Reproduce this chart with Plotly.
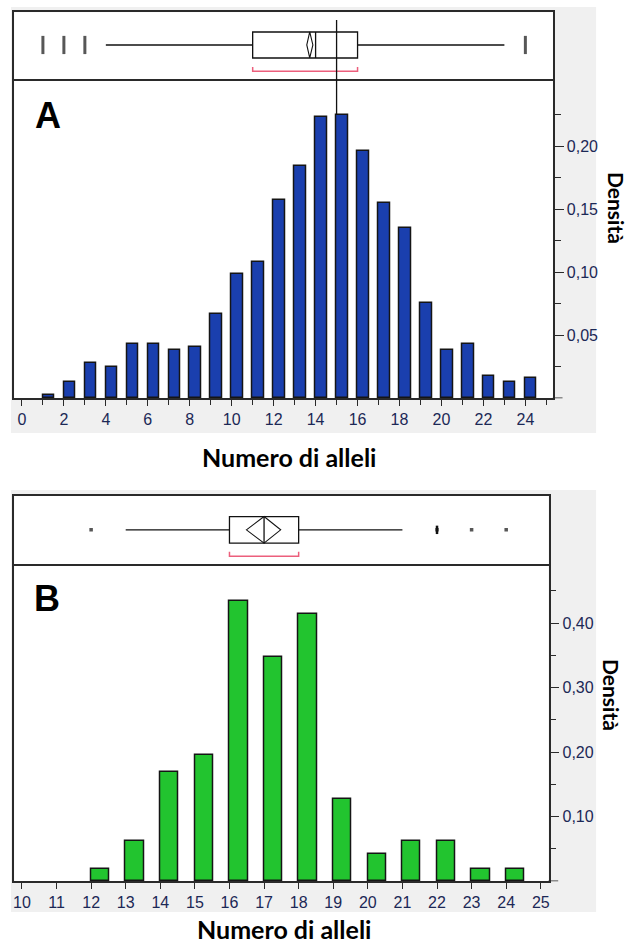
import plotly.graph_objects as go

# ---------------- data ----------------
# Panel A: density of the number of alleles
alleles_a = list(range(1, 25))
density_a = [0.003, 0.013, 0.028, 0.025, 0.043, 0.043, 0.038, 0.041, 0.067, 0.099,
             0.108, 0.157, 0.184, 0.223, 0.225, 0.196, 0.155, 0.135, 0.076, 0.038,
             0.043, 0.018, 0.013, 0.016]
# whisker low, Q1, median, Q3, whisker high
box_a = [4, 11, 14, 16, 23]
mean_a = 13.72
mean_ci_a = [13.58, 13.87]
shortest_half_a = [11, 16]
outliers_a = [1, 2, 3, 24]
outlier_n_a = [2, 2, 2, 2]
marker_line_a = 15

# Panel B
alleles_b = list(range(12, 25))
density_b = [0.019, 0.062, 0.170, 0.195, 0.434, 0.348, 0.414, 0.128, 0.042,
             0.062, 0.062, 0.019, 0.019]
box_b = [13, 16, 17, 18, 21]
mean_b = 17.0
mean_ci_b = [16.49, 17.48]
shortest_half_b = [16, 18]
outliers_b = [12, 22, 23, 24]
outlier_n_b = [1, 2, 1, 1]

ticks_a = list(range(0, 25, 2))
minor_a = list(range(1, 26, 2))
ticks_b = list(range(10, 26))
yticks_a = [0.05, 0.10, 0.15, 0.20]
yminor_a = [0.025, 0.075, 0.125, 0.175, 0.225]
yticks_b = [0.10, 0.20, 0.30, 0.40]
yminor_b = [0.05, 0.15, 0.25, 0.35, 0.45]

# ---------------- layout helpers ----------------
W, H = 630, 946


def px_x(v):
    return v / W


def px_y(v):
    return 1 - v / H


LINE = "#2a2a2a"
TICKFONT = dict(family="Liberation Sans, Arial", size=16, color="#1c2856")
TITLEFONT = "Lato, Open Sans, sans-serif"
RED = "#ec5f7c"
YMAX_A = 0.2534
YMAX_B = 0.4918

fig = go.Figure()

# histogram bars
fig.add_trace(go.Bar(x=alleles_a, y=density_a, width=0.54, offset=0,
                     marker=dict(color="#1a3fae", line=dict(color="#151515", width=1.5)),
                     xaxis="x", yaxis="y", showlegend=False))
fig.add_trace(go.Bar(x=alleles_b, y=density_b, width=0.53, offset=0,
                     marker=dict(color="#22c42f", line=dict(color="#151515", width=1.5)),
                     xaxis="x3", yaxis="y3", showlegend=False))

dom_a = [px_x(13.3), px_x(553.6)]
dom_b = [px_x(13.3), px_x(549.3)]

shapes = []

# grey panel backgrounds, then white plotting areas on top of them
for top, bot in [(7, 433), (490, 912)]:
    shapes.append(dict(type="rect", xref="paper", yref="paper", layer="below",
                       x0=px_x(10), x1=px_x(597), y0=px_y(bot), y1=px_y(top),
                       fillcolor="#f0f0f0", line=dict(width=0)))
for dom, top, bot in [(dom_a, 12.3, 398.3), (dom_b, 495.7, 881.2)]:
    shapes.append(dict(type="rect", xref="paper", yref="paper", layer="below",
                       x0=dom[0], x1=dom[1], y0=px_y(bot), y1=px_y(top),
                       fillcolor="white", line=dict(width=0)))


def add_boxplot(xr, yr, stats, mean, ci, half, outs, counts, centre):
    lo, q1, med, q3, hi = stats
    h = 0.195
    ln = dict(color="#111111", width=1.3)
    shapes.append(dict(type="line", xref=xr, yref=yr, x0=lo, x1=q1, y0=centre, y1=centre, line=ln))
    shapes.append(dict(type="line", xref=xr, yref=yr, x0=q3, x1=hi, y0=centre, y1=centre, line=ln))
    shapes.append(dict(type="rect", xref=xr, yref=yr, x0=q1, x1=q3,
                       y0=centre - h, y1=centre + h, line=ln))
    shapes.append(dict(type="line", xref=xr, yref=yr, x0=med, x1=med,
                       y0=centre - h, y1=centre + h, line=ln))
    path = (f"M{ci[0]},{centre} L{mean},{centre + h} L{ci[1]},{centre} "
            f"L{mean},{centre - h} Z")
    shapes.append(dict(type="path", xref=xr, yref=yr, path=path,
                       line=dict(color="#111111", width=1.1)))
    bpath = f"M{half[0]},0.18 L{half[0]},0.115 L{half[1]},0.115 L{half[1]},0.18"
    shapes.append(dict(type="path", xref=xr, yref=yr, path=bpath,
                       line=dict(color=RED, width=1.5)))
    axis_x = "x" + xr[1:]
    axis_y = "y" + yr[1:]
    # isolated points are small dots, stacked ones become short vertical bars
    syms = ["line-ns" if n > 1 else "square" for n in counts]
    sizes = [13 if n > 1 else 2 for n in counts]
    widths = [3 if n > 1 else 1.5 for n in counts]
    fig.add_trace(go.Scatter(x=outs, y=[centre] * len(outs), mode="markers",
                             marker=dict(symbol=syms, size=sizes, color="#111111",
                                         line=dict(color="#111111", width=widths)),
                             xaxis=axis_x, yaxis=axis_y, showlegend=False,
                             hoverinfo="x"))


add_boxplot("x2", "y2", box_a, mean_a, mean_ci_a, shortest_half_a,
            outliers_a, outlier_n_a, 0.51)
add_boxplot("x4", "y4", box_b, mean_b, mean_ci_b, shortest_half_b,
            outliers_b, [1] * len(outliers_b), 0.50)

# short stack for the repeated outlier in panel B
rep_b = [o for o, n in zip(outliers_b, outlier_n_b) if n > 1]
fig.add_trace(go.Scatter(x=rep_b, y=[0.5] * len(rep_b), mode="markers",
                         marker=dict(symbol="line-ns", size=6, color="#111111",
                                     line=dict(color="#111111", width=2.5)),
                         xaxis="x4", yaxis="y4", showlegend=False))

# vertical reference line through the box plot and into the histogram (panel A)
shapes.append(dict(type="line", xref="x2", yref="y2", x0=marker_line_a, x1=marker_line_a,
                   y0=0, y1=0.885, line=dict(color="#111111", width=1.3)))
top_a = density_a[alleles_a.index(marker_line_a)]
shapes.append(dict(type="line", xref="x", yref="y", x0=marker_line_a, x1=marker_line_a,
                   y0=top_a, y1=YMAX_A, line=dict(color="#111111", width=1.3)))

# x axis lines running slightly past the right-hand axis
shapes.append(dict(type="line", xref="x domain", yref="y", x0=1, x1=1.018, y0=0, y1=0,
                   line=dict(color=LINE, width=1.5)))
shapes.append(dict(type="line", xref="x3 domain", yref="y3", x0=1, x1=1.018, y0=0, y1=0,
                   line=dict(color=LINE, width=1.5)))

frame = dict(showline=True, linecolor=LINE, linewidth=1.5, mirror=True,
             showgrid=False, zeroline=False)
bottom_only = dict(showline=True, linecolor=LINE, linewidth=1.5, mirror=False,
                   showgrid=False, zeroline=False)

layout = dict(
    width=W, height=H, autosize=False,
    margin=dict(l=0, r=0, t=0, b=0),
    paper_bgcolor="white", plot_bgcolor="white",
    separators=",.",
    bargap=0,
    shapes=shapes,
    # panel A histogram
    xaxis=dict(domain=dom_a, anchor="y", range=[-0.366, 25.31],
               tickmode="array", tickvals=ticks_a, ticks="outside", ticklen=6,
               tickcolor=LINE, tickwidth=1.3, tickfont=TICKFONT,
               minor=dict(tickmode="array", tickvals=minor_a, ticks="outside",
                          ticklen=5, tickcolor=LINE, tickwidth=1.3, showgrid=False),
               **bottom_only),
    yaxis=dict(domain=[px_y(398.3), px_y(79)], anchor="x", side="right",
               range=[0, YMAX_A], tickmode="array", tickvals=yticks_a,
               ticktext=["0,05", "0,10", "0,15", "0,20"],
               ticks="outside", ticklen=9, tickcolor=LINE, tickwidth=1.3,
               tickfont=TICKFONT,
               minor=dict(tickmode="array", tickvals=yminor_a, ticks="outside",
                          ticklen=6, tickcolor=LINE, tickwidth=1.3, showgrid=False),
               **frame),
    # panel A box plot
    xaxis2=dict(domain=dom_a, anchor="y2", range=[-0.366, 25.31],
                showticklabels=False, ticks="", **frame),
    yaxis2=dict(domain=[px_y(79), px_y(12.3)], anchor="x2", range=[0, 1],
                showticklabels=False, ticks="", **frame),
    # panel B histogram
    xaxis3=dict(domain=dom_b, anchor="y3", range=[9.778, 25.225],
                tickmode="array", tickvals=ticks_b, ticks="outside", ticklen=6,
                tickcolor=LINE, tickwidth=1.3, tickfont=TICKFONT, **bottom_only),
    yaxis3=dict(domain=[px_y(881.2), px_y(564)], anchor="x3", side="right",
                range=[0, YMAX_B], tickmode="array", tickvals=yticks_b,
                ticktext=["0,10", "0,20", "0,30", "0,40"],
                ticks="outside", ticklen=9, tickcolor=LINE, tickwidth=1.3,
                tickfont=TICKFONT,
                minor=dict(tickmode="array", tickvals=yminor_b, ticks="outside",
                           ticklen=6, tickcolor=LINE, tickwidth=1.3, showgrid=False),
                **frame),
    # panel B box plot
    xaxis4=dict(domain=dom_b, anchor="y4", range=[9.778, 25.225],
                showticklabels=False, ticks="", **frame),
    yaxis4=dict(domain=[px_y(564), px_y(495.7)], anchor="x4", range=[0, 1],
                showticklabels=False, ticks="", **frame),
)

ann = []
ann.append(dict(text="<b>A</b>", x=px_x(47), y=px_y(115), xref="paper", yref="paper",
                showarrow=False, xanchor="center", yanchor="middle",
                font=dict(family="Liberation Sans, Arial", size=36, color="black")))
ann.append(dict(text="<b>B</b>", x=px_x(46), y=px_y(598), xref="paper", yref="paper",
                showarrow=False, xanchor="center", yanchor="middle",
                font=dict(family="Liberation Sans, Arial", size=36, color="black")))
ann.append(dict(text="<b>Numero di alleli</b>", x=px_x(289), y=px_y(457),
                xref="paper", yref="paper", showarrow=False,
                xanchor="center", yanchor="middle",
                font=dict(family=TITLEFONT, size=25, color="black")))
ann.append(dict(text="<b>Numero di alleli</b>", x=px_x(284), y=0,
                xref="paper", yref="paper", showarrow=False,
                xanchor="center", yanchor="bottom",
                font=dict(family=TITLEFONT, size=25, color="black")))
for cx, cy in [(618, 208), (613, 695)]:
    ann.append(dict(text="<b>Densità</b>", x=px_x(cx), y=px_y(cy),
                    xref="paper", yref="paper", showarrow=False, textangle=90,
                    xanchor="center", yanchor="middle",
                    font=dict(family=TITLEFONT, size=21, color="black")))
layout["annotations"] = ann

fig.update_layout(**layout)
fig.write_html("out.html")
